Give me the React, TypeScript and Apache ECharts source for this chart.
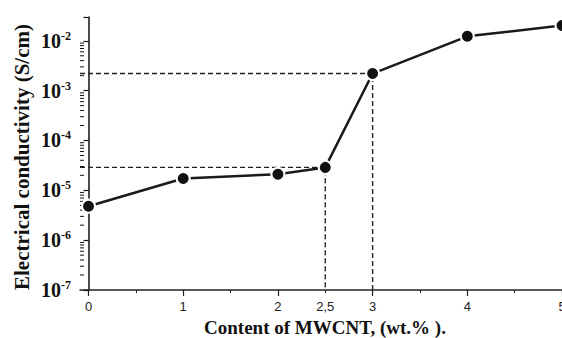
import React, { useEffect, useRef } from 'react';
import * as echarts from 'echarts';

// Data
const contentWt = [0, 1, 2, 2.5, 3, 4, 5];
const conductivity = [4.8e-6, 1.73e-5, 2.1e-5, 2.88e-5, 2.2e-3, 1.23e-2, 2.02e-2];

// Axis ticks / labels
const xTickValues = [0, 1, 2, 3, 4, 5];
const xMinorTickValues = [0.5, 1.5, 2.5, 3.5, 4.5];
const xLabelValues = [0, 1, 2, 2.5, 3, 4, 5];
const yMinorMantissas = [2, 3, 4, 5, 6, 7, 8, 9];
const yMinorDecades = [1e-7, 1e-6, 1e-5, 1e-4, 1e-3];

// Dashed projection guides (x positions of projected points)
const guideXs = [2.5, 3];

const X_MIN = -0.09;
const X_MAX = 5;
const Y_MIN = 1e-7;
const Y_MAX = 0.03;

const SERIF = "'Liberation Serif', 'Times New Roman', 'DejaVu Serif', serif";
const SANS = "'Liberation Sans', Arial, sans-serif";

export default function App() {
  const ref = useRef<HTMLDivElement>(null);

  useEffect(() => {
    if (!ref.current) return;
    const chart = echarts.init(ref.current, null, { renderer: 'svg' });

    const minorTickData: number[][] = [];
    yMinorDecades.forEach((d) => {
      yMinorMantissas.forEach((m) => {
        minorTickData.push([X_MIN, m * d]);
      });
    });

    const guideSeries = guideXs.map((gx) => {
      const idx = contentWt.indexOf(gx);
      const v = conductivity[idx];
      return {
        type: 'line',
        data: [
          [X_MIN, v],
          [gx, v],
          [gx, Y_MIN],
        ],
        showSymbol: false,
        symbol: 'none',
        silent: true,
        z: 1,
        lineStyle: { color: '#222', width: 1.4, type: [5, 3] },
      };
    });

    const option: any = {
      animation: false,
      backgroundColor: '#ffffff',
      grid: {
        left: 80,
        right: 0,
        top: 17,
        bottom: 48,
        containLabel: false,
        outerBoundsMode: 'none',
      },
      xAxis: [
        {
          type: 'value',
          min: X_MIN,
          max: X_MAX,
          position: 'bottom',
          axisLine: { show: true, onZero: false, lineStyle: { color: '#222', width: 1.5 } },
          axisTick: {
            show: true,
            customValues: xTickValues,
            length: 6,
            lineStyle: { color: '#222', width: 1.2 },
          },
          axisLabel: {
            customValues: xLabelValues,
            formatter: (v: number) => (v === 2.5 ? '2,5' : String(v)),
            fontFamily: SANS,
            fontSize: 13,
            color: '#222',
            margin: 10,
            hideOverlap: false,
          },
          splitLine: { show: false },
        },
        {
          type: 'value',
          min: X_MIN,
          max: X_MAX,
          position: 'bottom',
          axisLine: { show: false },
          axisTick: {
            show: true,
            customValues: xMinorTickValues,
            length: 3,
            lineStyle: { color: '#222', width: 1 },
          },
          axisLabel: { show: false },
          splitLine: { show: false },
        },
      ],
      yAxis: {
        type: 'log',
        logBase: 10,
        min: Y_MIN,
        max: Y_MAX,
        axisLine: { show: true, lineStyle: { color: '#111', width: 1.5 } },
        axisTick: { show: true, inside: false, length: 5, lineStyle: { color: '#111', width: 1.2 } },
        splitLine: { show: false },
        axisLabel: {
          margin: 9,
          formatter: (v: number) => {
            const l = Math.log10(v);
            const e = Math.round(l);
            if (Math.abs(l - e) > 0.01) return '';
            return '{b|10}{s|' + e + '}';
          },
          rich: {
            b: { fontFamily: SERIF, fontWeight: 'bold', fontSize: 20, color: '#111' },
            s: {
              fontFamily: SERIF,
              fontWeight: 'bold',
              fontSize: 12,
              color: '#111',
              padding: [0, 0, 10, 0],
            },
          },
        },
      },
      series: [
        ...guideSeries,
        {
          type: 'custom',
          silent: true,
          z: 3,
          data: minorTickData,
          encode: { x: 0, y: 1 },
          renderItem: (params: any, api: any) => {
            const p = api.coord([api.value(0), api.value(1)]);
            return {
              type: 'line',
              shape: { x1: p[0], y1: p[1], x2: p[0] + 4, y2: p[1] },
              style: { stroke: '#111', lineWidth: 1 },
            };
          },
        },
        {
          type: 'line',
          z: 5,
          data: contentWt.map((x, i) => [x, conductivity[i]]),
          symbol: 'circle',
          symbolSize: 13,
          showSymbol: true,
          lineStyle: { color: '#1a1a1a', width: 2.5 },
          itemStyle: { color: '#111', borderColor: '#ffffff', borderWidth: 2 },
        },
      ],
      graphic: [
        {
          type: 'text',
          x: 22,
          y: 157,
          rotation: Math.PI / 2,
          style: {
            text: 'Electrical conductivity (S/cm)',
            fontFamily: SERIF,
            fontWeight: 'bold',
            fontSize: 21,
            fill: '#111',
            align: 'center',
            verticalAlign: 'middle',
          },
        },
        {
          type: 'text',
          x: 325,
          y: 327,
          style: {
            text: 'Content of MWCNT, (wt.% ).',
            fontFamily: SERIF,
            fontWeight: 'bold',
            fontSize: 19,
            fill: '#111',
            align: 'center',
            verticalAlign: 'middle',
          },
        },
      ],
    };

    chart.setOption(option);
    return () => chart.dispose();
  }, []);

  return (
    <div
      ref={ref}
      style={{ position: 'fixed', left: 0, top: 0, width: 562, height: 338, background: '#fff' }}
    />
  );
}
